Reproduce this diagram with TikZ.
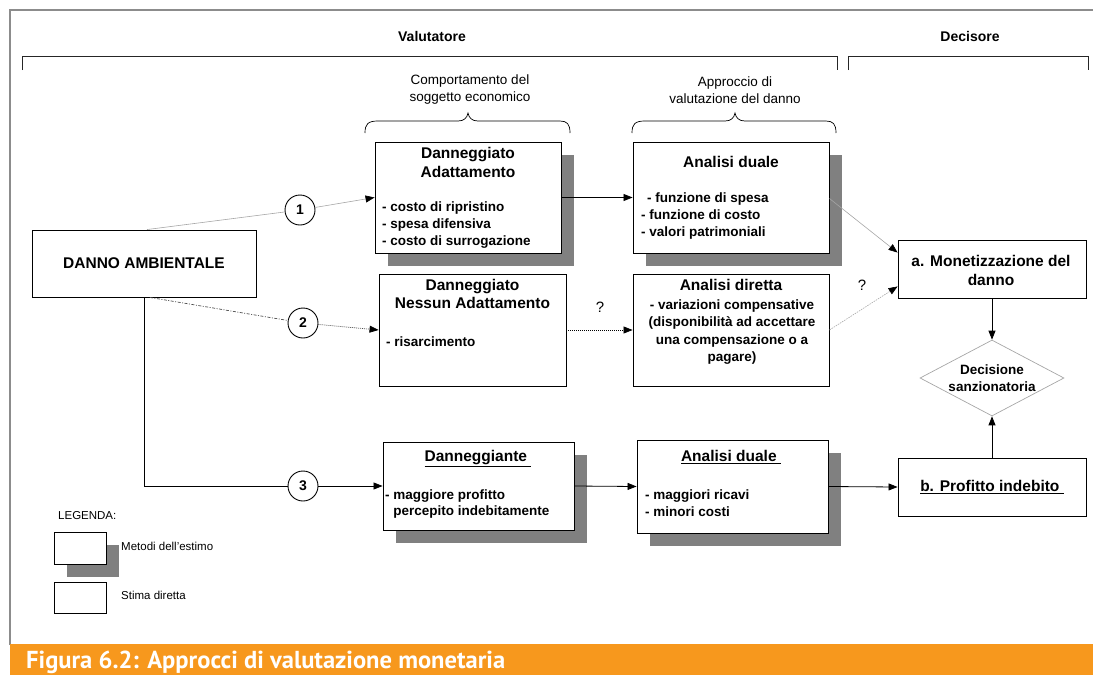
\documentclass[tikz,border=0pt]{standalone}
\usepackage{fontspec}
\setmainfont{Liberation Sans}
\newfontfamily\captionfont{PT Sans}
\usetikzlibrary{arrows.meta,shapes.geometric,shadows,calc}
\definecolor{shadowgray}{HTML}{808080}
\definecolor{framegray}{HTML}{8C8C8C}
\definecolor{bandorange}{HTML}{F7981D}
\definecolor{lightline}{HTML}{A6A6A6}

\begin{document}
\begin{tikzpicture}[x=1pt,y=-1pt,
  box/.style={draw=black, line width=0.9pt, fill=white, inner sep=0pt},
  shadowed/.style={box, drop shadow={shadow xshift=13pt, shadow yshift=-13pt, fill=shadowgray, opacity=1}},
  boxtitle/.style={font=\fontsize{15.5}{19}\selectfont\bfseries, align=center, inner sep=0pt},
  boxbody/.style={font=\fontsize{13.5}{16.8}\selectfont\bfseries, align=left, inner sep=0pt, anchor=west},
  plain/.style={font=\fontsize{13.5}{17}\selectfont, align=center, inner sep=0pt},
  legendtext/.style={font=\fontsize{11.5}{13}\selectfont, inner sep=0pt, anchor=west},
  numcircle/.style={circle, draw=black, line width=0.9pt, minimum size=30pt, inner sep=0pt, fill=white, font=\fontsize{14}{14}\selectfont\bfseries},
  headarrow/.style={-{Triangle[length=9pt,width=7pt,color=black]}},
  link/.style={line width=0.8pt, draw=black},
  faint/.style={line width=0.6pt, draw=lightline},
  bracket/.style={line width=0.8pt, draw=black!85}
]
\useasboundingbox (0,0) rectangle (1093,675);

% outer frame and caption band
\draw[framegray, line width=1.5pt] (10,645) -- (10,10) -- (1093,10);
\fill[bandorange] (10,644) rectangle (1093,675);
\node[anchor=base west, text=white, inner sep=0pt] (caption) at (26,668)
  {\resizebox{479pt}{!}{\captionfont\bfseries\fontsize{26}{30}\selectfont Figura 6.2: Approcci di valutazione monetaria}};

% role headings and their brackets
\node[font=\fontsize{14}{16}\selectfont\bfseries, inner sep=0pt] (valutatore) at (432,36) {Valutatore};
\node[font=\fontsize{14}{16}\selectfont\bfseries, inner sep=0pt] (decisore) at (970,36) {Decisore};
\draw[bracket] (22,70) -- (22,56) -- (837,56) -- (837,70);
\draw[bracket] (848,70) -- (848,56) -- (1088,56) -- (1088,70);

% column headings with curly braces
\node[plain] (comportamento) at (470,90) {Comportamento del\\soggetto economico};
\node[plain] (approccio) at (735,90) {Approccio di\\valutazione del danno};
\draw[line width=0.7pt] (365,133) .. controls (365,124) and (368,121) .. (378,121) -- (458,121)
  .. controls (464,121) and (467,118) .. (468,113) .. controls (469,118) and (472,121) .. (478,121)
  -- (560,121) .. controls (567,121) and (570,124) .. (570,133);
\draw[line width=0.7pt] (632,133) .. controls (632,124) and (635,121) .. (645,121) -- (725,121)
  .. controls (731,121) and (734,118) .. (735,113) .. controls (736,118) and (739,121) .. (745,121)
  -- (826,121) .. controls (833,121) and (836,124) .. (836,133);

% source box
\node[box, minimum width=224pt, minimum height=67pt, font=\fontsize{15.5}{18}\selectfont\bfseries] (danno) at (144,263.5) {DANNO AMBIENTALE};

% row 1: adaptation
\node[shadowed, minimum width=186pt, minimum height=111pt] (adatt) at (468,197.5) {};
\node[boxtitle] (adattT) at (468,162.5) {Danneggiato\\Adattamento};
\node[boxbody] (adattB) at (382,225) {- costo di ripristino\\- spesa difensiva\\- costo di surrogazione};

\node[shadowed, minimum width=196pt, minimum height=111pt] (duale) at (731,197.5) {};
\node[boxtitle] (dualeT) at (731,162) {Analisi duale};
\node[boxbody] (dualeB) at (641,216) {\hspace{6pt}- funzione di spesa\\- funzione di costo\\- valori patrimoniali};

% row 2: no adaptation
\node[box, minimum width=187pt, minimum height=112pt] (nessun) at (472.5,330) {};
\node[boxtitle, font=\fontsize{15.5}{18.5}\selectfont\bfseries] (nessunT) at (472.5,294) {Danneggiato\\Nessun Adattamento};
\node[boxbody] (nessunB) at (386,342) {- risarcimento};

\node[box, minimum width=196pt, minimum height=112pt] (diretta) at (731,330) {};
\node[boxtitle] (direttaT) at (731,285) {Analisi diretta};
\node[font=\fontsize{13.5}{17.3}\selectfont\bfseries, align=center, inner sep=0pt] (direttaB) at (732,332)
  {- variazioni compensative\\(disponibilità ad accettare\\una compensazione o a\\pagare)};

% row 3: polluter
\node[shadowed, minimum width=191pt, minimum height=88pt] (danneggiante) at (478.5,486) {};
\node[boxtitle] (danneggianteT) at (478,459) {\underline{Danneggiante\ }};
\node[boxbody] (danneggianteB) at (385,504) {- maggiore profitto\\\phantom{- }percepito indebitamente};

\node[shadowed, minimum width=191pt, minimum height=93pt] (duale2) at (732.5,486.5) {};
\node[boxtitle] (duale2T) at (731,457) {\underline{Analisi duale\ }};
\node[boxbody] (duale2B) at (645,503) {- maggiori ricavi\\- minori costi};

% decision side
\node[box, minimum width=188pt, minimum height=58pt] (monet) at (992,269) {};
\node[boxtitle] (monetT) at (991,270) {a. Monetizzazione del\\danno};
\node[diamond, draw=lightline, line width=0.7pt, minimum width=144pt, minimum height=76pt, inner sep=0pt, aspect=1.9] (sanz) at (992,378) {};
\node[font=\fontsize{13.5}{17}\selectfont\bfseries, align=center, inner sep=0pt] (sanzT) at (992,378) {Decisione\\sanzionatoria};
\node[box, minimum width=188pt, minimum height=58pt] (profitto) at (992,487) {};
\node[boxtitle] (profittoT) at (992,487) {\underline{b. Profitto indebito\ }};

% numbered routes
\node[numcircle] (c1) at (300,210) {1};
\node[numcircle] (c2) at (303,323) {2};
\node[numcircle] (c3) at (303,486) {3};

\draw[faint] ($(danno.north)+(3,0)$) -- (c1);
\draw[faint, headarrow] (c1) -- (adatt.west);
\draw[line width=0.7pt, draw=black!70, dash pattern=on 3pt off 1.5pt on 1pt off 1.5pt] ($(danno.south)+(6,0)$) -- (c2);
\draw[line width=0.7pt, draw=black!70, dash pattern=on 1pt off 1pt, headarrow] (c2) -- (nessun.west);
\draw[link] (danno.south) |- (c3);
\draw[link, headarrow] (c3) -- (danneggiante.west);

% links between columns
\draw[link, headarrow] (adatt.east) -- (duale.west);
\draw[link, dash pattern=on 1pt off 1pt, headarrow] (nessun.east) -- (diretta.west);
\draw[link, headarrow] (danneggiante.east) -- (duale2.west);
\draw[link, headarrow] (duale2.east) -- (profitto.west);
\coordinate (monetIn1) at ($(monet.north west)+(0,13)$);
\coordinate (monetIn2) at ($(monet.south west)+(0,-12)$);
\draw[faint, headarrow] ($(duale.east)+(0,1)$) -- (monetIn1);
\draw[faint, dash pattern=on 1.5pt off 1pt, headarrow] (diretta.east) -- (monetIn2);
\draw[link, headarrow] (monet.south) -- (sanz.north);
\draw[link, headarrow] (profitto.north) -- (sanz.south);

\node[font=\fontsize{15}{17}\selectfont, inner sep=0pt] (q1) at (600,307) {?};
\node[font=\fontsize{15}{17}\selectfont, inner sep=0pt] (q2) at (862,285) {?};

% legend
\node[legendtext] (legenda) at (58,516) {LEGENDA:};
\node[shadowed, minimum width=52pt, minimum height=32pt] (leg1) at (80,548) {};
\node[legendtext] (leg1T) at (121,546) {Metodi dell'estimo};
\node[box, minimum width=52pt, minimum height=31pt] (leg2) at (80,597.5) {};
\node[legendtext] (leg2T) at (121,595) {Stima diretta};
\end{tikzpicture}
\end{document}
